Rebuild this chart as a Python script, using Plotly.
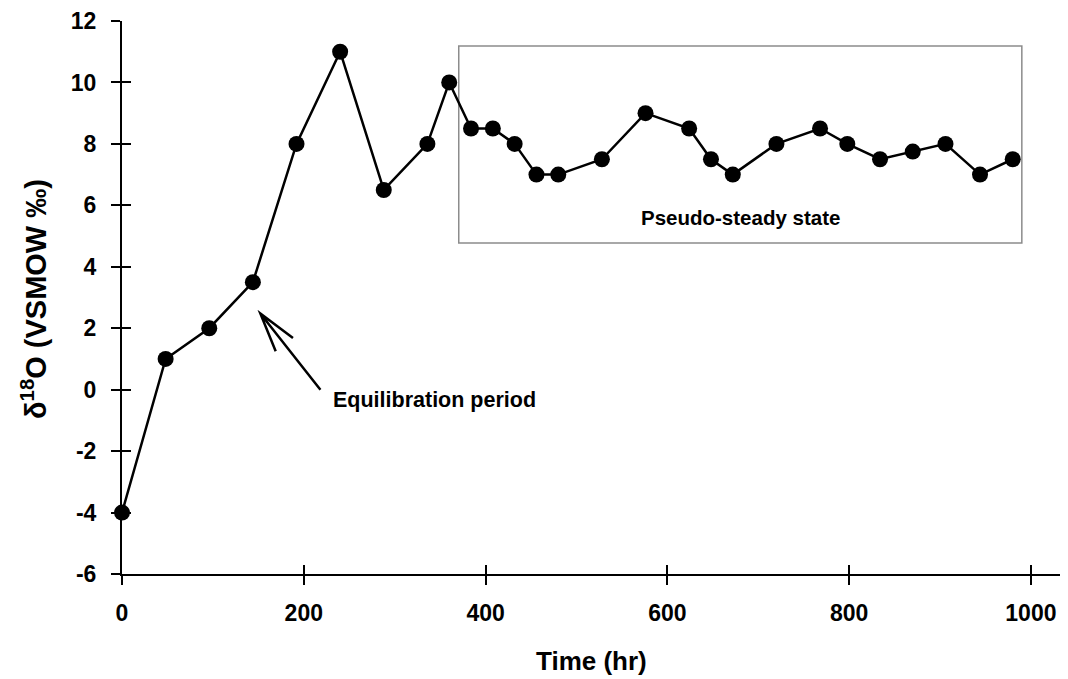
import plotly.graph_objects as go

# Data
hours = [0, 48, 96, 144, 192, 240, 288, 336, 360, 384, 408, 432, 456, 480, 528,
         576, 624, 648, 672, 720, 768, 798, 834, 870, 906, 944, 980]
d18o = [-4, 1, 2, 3.5, 8, 11, 6.5, 8, 10, 8.5, 8.5, 8, 7, 7, 7.5,
        9, 8.5, 7.5, 7, 8, 8.5, 8, 7.5, 7.75, 8, 7, 7.5]

x_ticks = [0, 200, 400, 600, 800, 1000]
y_ticks = [-6, -4, -2, 0, 2, 4, 6, 8, 10, 12]
x_range = [0, 1032]
y_range = [-6, 12]

FONT = "Liberation Sans, Arial, sans-serif"

fig = go.Figure()
fig.add_trace(go.Scatter(
    x=hours, y=d18o, mode="lines+markers",
    line=dict(color="black", width=2.5),
    marker=dict(color="black", size=16),
    cliponaxis=False, showlegend=False,
))
# invisible trace to activate overlay axes (for crossing ticks)
fig.add_trace(go.Scatter(x=[0], y=[0], xaxis="x2", yaxis="y2", mode="markers",
                         marker=dict(size=1, opacity=0),
                         showlegend=False, hoverinfo="skip"))

tickfont = dict(family=FONT, size=23, color="black")
x_text = [f"<b>{v}</b>" for v in x_ticks]
y_text = [f"<b>{v}</b>" for v in y_ticks]

fig.update_layout(
    width=1068, height=679,
    margin=dict(l=122, r=8, t=19, b=105),
    plot_bgcolor="white", paper_bgcolor="white",
    xaxis=dict(range=x_range, tickvals=x_ticks, ticktext=x_text, showgrid=False, zeroline=False,
               showline=True, linecolor="black", linewidth=2,
               ticks="outside", ticklen=9, tickwidth=1.5, tickcolor="black",
               tickfont=tickfont, ticklabelstandoff=8),
    yaxis=dict(range=y_range, tickvals=y_ticks, ticktext=y_text, showgrid=False, zeroline=False,
               showline=True, linecolor="black", linewidth=2,
               ticks="outside", ticklen=9, tickwidth=1.5, tickcolor="black",
               tickfont=tickfont, ticklabelstandoff=10),
    xaxis2=dict(range=x_range, tickvals=x_ticks, overlaying="x", side="bottom",
                anchor="y2", showgrid=False, zeroline=False, showline=False,
                ticks="inside", ticklen=9, tickwidth=1.5, tickcolor="black",
                showticklabels=False),
    yaxis2=dict(range=y_range, tickvals=y_ticks, overlaying="y", side="left",
                anchor="x2", showgrid=False, zeroline=False, showline=False,
                ticks="inside", ticklen=9, tickwidth=1.5, tickcolor="black",
                showticklabels=False),
)

# Pseudo-steady state box
fig.add_shape(type="rect", xref="x", yref="y", x0=370.5, x1=990, y0=4.77, y1=11.19,
              line=dict(color="#8c8c8c", width=1.5), layer="below")
fig.add_annotation(x=681, y=5.61, xref="x", yref="y", text="<b>Pseudo-steady state</b>",
                   showarrow=False, font=dict(family=FONT, size=20.5, color="black"))

# Equilibration arrow (open V head)
fig.add_shape(type="path", xref="x", yref="y",
              path="M 218.3 0.0 L 152.2 2.48 M 188.1 1.68 L 152.2 2.48 L 169.1 1.25",
              line=dict(color="black", width=2.5))
fig.add_annotation(x=229.8, y=-0.35, xref="x", yref="y", text="<b>Equilibration period</b>",
                   xanchor="left", showarrow=False,
                   font=dict(family=FONT, size=21.5, color="black"))

# Axis titles
fig.add_annotation(x=0.5, y=-0.158, xref="paper", yref="paper", text="<b>Time (hr)</b>",
                   showarrow=False, xanchor="center", yanchor="middle",
                   font=dict(family=FONT, size=26, color="black"))
fig.add_annotation(x=-0.094, y=0.497, xref="paper", yref="paper",
                   text="<b>δ<sup>18</sup>O (VSMOW ‰)</b>", textangle=-90,
                   showarrow=False, xanchor="center", yanchor="middle",
                   font=dict(family=FONT, size=29, color="black"))

fig.write_html("out.html")
